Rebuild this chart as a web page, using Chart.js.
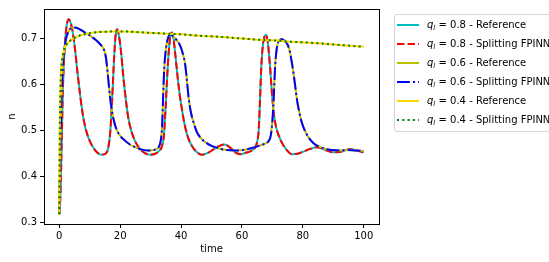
<!DOCTYPE html>
<html>
<head>
<meta charset="utf-8">
<script src="https://cdn.jsdelivr.net/npm/chart.js@4.4.0/dist/chart.umd.min.js"></script>
<style>
  html, body { margin: 0; padding: 0; background: #fff; overflow: hidden; }
  #wrap { position: relative; width: 549px; height: 262px; }
  #legend {
    position: absolute; left: 394px; top: 14px; width: 162px; height: 116px;
    border: 1px solid #d6d6d6; border-radius: 3px; background: rgba(255,255,255,0.8);
    font-family: "DejaVu Sans", sans-serif; font-size: 10px; color: #000;
  }
  .row { position: absolute; left: 0; height: 14px; white-space: nowrap; }
  .row svg { position: absolute; left: 2px; top: 5px; }
  .row span.txt { position: absolute; left: 32px; top: 0; line-height: 14px; }
  .row i { font-style: italic; }
  .row sub { font-size: 7px; font-style: italic; vertical-align: -2px; line-height: 0; }
</style>
</head>
<body>
<div id="wrap">
  <canvas id="grafico" width="549" height="262"></canvas>
  <div id="legend"></div>
</div>
<script>
// q_l = 0.8
const time08 = [0, 0.4, 0.8, 1.25, 1.8, 2.4, 3.1, 3.8, 4.5, 5.2, 6.0, 6.8, 7.6, 8.6, 9.8, 11.0, 12.3, 13.9, 15.2, 16.1,
  16.8, 17.4, 18.0, 18.5, 19.0, 19.6, 20.3, 21.0, 21.8, 22.6, 23.6, 24.8, 26.2, 28.0, 29.8, 31.5, 32.8, 33.7, 34.4, 34.9,
  35.4, 35.9, 36.4, 36.9, 37.5, 38.1, 38.8, 39.5, 40.3, 41.1, 42.0, 43.2, 44.8, 46.8, 48.8, 50.8, 52.6, 54.4, 56.2, 57.8,
  59.4, 61.2, 63.2, 64.3, 65.0, 65.5, 65.9, 66.3, 66.8, 67.4, 67.9, 68.5, 69.2, 69.8, 70.4, 71.1, 72.0, 73.2, 74.6, 76.4,
  78.2, 80.0, 82.2, 84.6, 87.2, 90.0, 92.8, 95.5, 97.8, 100];
const n08 = [0.318, 0.36, 0.47, 0.60, 0.68, 0.725, 0.741, 0.732, 0.71, 0.675, 0.625, 0.58, 0.54, 0.505, 0.48, 0.464, 0.453, 0.447, 0.449, 0.462,
  0.50, 0.57, 0.655, 0.705, 0.719, 0.705, 0.67, 0.62, 0.57, 0.53, 0.50, 0.478, 0.462, 0.451, 0.447, 0.449, 0.455, 0.465, 0.49, 0.545,
  0.61, 0.665, 0.70, 0.712, 0.70, 0.665, 0.62, 0.58, 0.545, 0.515, 0.49, 0.47, 0.455, 0.447, 0.451, 0.459, 0.466, 0.469, 0.462, 0.452,
  0.448, 0.451, 0.456, 0.462, 0.475, 0.50, 0.56, 0.63, 0.68, 0.703, 0.707, 0.69, 0.64, 0.585, 0.54, 0.51, 0.49, 0.472, 0.458, 0.448,
  0.449, 0.453, 0.459, 0.463, 0.458, 0.452, 0.454, 0.459, 0.456, 0.452];

// q_l = 0.6
const time06 = [0, 0.3, 0.6, 1.0, 1.5, 2.2, 3.0, 4.0, 5.0, 6.5, 8.0, 9.5, 11.0, 12.5, 13.8, 14.8, 15.4, 15.9, 16.4, 17.0,
  17.8, 18.8, 20.0, 21.5, 23.2, 25.0, 27.2, 29.5, 31.5, 32.7, 33.4, 33.8, 34.1, 34.5, 35.0, 35.6, 36.5, 37.5, 38.6, 39.6,
  40.5, 41.3, 41.9, 42.5, 43.2, 44.2, 45.2, 46.5, 48.0, 50.0, 52.2, 55.0, 57.8, 60.5, 63.0, 65.5, 67.5, 68.7, 69.5, 70.1,
  70.5, 70.9, 71.4, 72.0, 72.6, 73.6, 74.8, 75.6, 76.3, 76.9, 77.5, 78.1, 78.8, 79.6, 80.6, 82.0, 83.5, 85.2, 87.2, 89.5,
  92.0, 94.5, 97.0, 100];
const n06 = [0.318, 0.42, 0.53, 0.61, 0.665, 0.697, 0.714, 0.722, 0.723, 0.72, 0.714, 0.708, 0.701, 0.693, 0.684, 0.673, 0.655, 0.625, 0.59, 0.555,
  0.525, 0.502, 0.488, 0.478, 0.469, 0.463, 0.458, 0.456, 0.458, 0.464, 0.48, 0.51, 0.57, 0.635, 0.675, 0.697, 0.708, 0.703, 0.695, 0.685,
  0.668, 0.645, 0.61, 0.57, 0.54, 0.515, 0.496, 0.483, 0.474, 0.466, 0.461, 0.457, 0.456, 0.457, 0.461, 0.466, 0.471, 0.476, 0.49, 0.53,
  0.58, 0.64, 0.676, 0.693, 0.698, 0.696, 0.688, 0.674, 0.65, 0.625, 0.595, 0.565, 0.54, 0.518, 0.5, 0.483, 0.472, 0.465, 0.46, 0.457,
  0.456, 0.457, 0.456, 0.455];

// q_l = 0.4
const time04 = [0, 0.1, 0.2, 0.35, 0.55, 0.85, 1.25, 1.8, 2.5, 3.5, 5.0, 7.0, 9.5, 13.0, 17.0, 22.0, 28.0, 34.0, 40.0, 46.0,
  52.0, 58.0, 64.0, 70.0, 76.0, 82.0, 88.0, 94.0, 100];
const n04 = [0.318, 0.42, 0.51, 0.575, 0.62, 0.648, 0.665, 0.678, 0.687, 0.694, 0.70, 0.706, 0.710, 0.713, 0.714, 0.714, 0.712, 0.710, 0.708, 0.705,
  0.703, 0.700, 0.697, 0.695, 0.692, 0.690, 0.687, 0.684, 0.681];

const xTicks = [0, 20, 40, 60, 80, 100];
const yTicks = [0.3, 0.4, 0.5, 0.6, 0.7];
const qValues = ['0.8', '0.8', '0.6', '0.6', '0.4', '0.4'];
const metodos = ['Reference', 'Splitting FPINN', 'Reference', 'Splitting FPINN', 'Reference', 'Splitting FPINN'];

const puntos = (ts, ns) => ts.map((t, i) => ({ x: t, y: ns[i] }));

const estilos = [
  { color: '#00bfbf', dash: [] },
  { color: '#ff0000', dash: [7.4, 3.2] },
  { color: '#bfbf00', dash: [] },
  { color: '#0000ff', dash: [12.8, 3.2, 2, 3.2] },
  { color: '#ffd700', dash: [] },
  { color: '#008000', dash: [2, 3.3] }
];
const series = [puntos(time08, n08), puntos(time08, n08), puntos(time06, n06), puntos(time06, n06), puntos(time04, n04), puntos(time04, n04)];

const datasets = series.map((d, i) => ({
  label: 'q_l = ' + qValues[i] + ' - ' + metodos[i],
  data: d,
  borderColor: estilos[i].color,
  borderDash: estilos[i].dash,
  borderWidth: 2,
  pointRadius: 0,
  fill: false,
  cubicInterpolationMode: 'monotone',
  order: 6 - i
}));

const marco = {
  id: 'marco',
  afterDatasetsDraw(chart) {
    const a = chart.chartArea;
    const ctx = chart.ctx;
    ctx.save();
    ctx.strokeStyle = '#000';
    ctx.lineWidth = 1;
    ctx.strokeRect(Math.round(a.left) + 0.5, Math.round(a.top) + 0.5, Math.round(a.right - a.left), Math.round(a.bottom - a.top));
    ctx.restore();
  }
};

const fuente = { family: 'DejaVu Sans', size: 10 };

new Chart(document.getElementById('grafico'), {
  type: 'line',
  data: { datasets: datasets },
  options: {
    responsive: false,
    animation: false,
    layout: { padding: { left: 0, right: 170, top: 6, bottom: 0 } },
    plugins: { legend: { display: false }, tooltip: { enabled: false } },
    scales: {
      x: {
        type: 'linear', min: -5, max: 105,
        afterBuildTicks: (s) => { s.ticks = xTicks.map(v => ({ value: v })); },
        afterFit: (s) => { s.height = 38; },
        grid: { drawOnChartArea: false, drawTicks: true, tickLength: 4, color: '#000' },
        border: { display: false },
        ticks: { font: fuente, color: '#000', padding: 2, maxRotation: 0 },
        title: { display: true, text: 'time', font: fuente, color: '#000', padding: { top: 0, bottom: 7 } }
      },
      y: {
        type: 'linear', min: 0.2966, max: 0.763,
        afterBuildTicks: (s) => { s.ticks = yTicks.map(v => ({ value: v })); },
        afterFit: (s) => { s.width = 44; },
        grid: { drawOnChartArea: false, drawTicks: true, tickLength: 4, color: '#000' },
        border: { display: false },
        ticks: { font: fuente, color: '#000', padding: 3, callback: (v) => v.toFixed(1) },
        title: { display: true, text: 'n', font: fuente, color: '#000', padding: { top: 6, bottom: 0 } }
      }
    }
  },
  plugins: [marco]
});

// leyenda en HTML para poder usar cursiva y subindice
const leyenda = document.getElementById('legend');
const filasY = [3, 22, 41, 60, 79, 98];
datasets.forEach((ds, i) => {
  const fila = document.createElement('div');
  fila.className = 'row';
  fila.style.top = filasY[i] + 'px';
  fila.innerHTML = `
    <svg width="24" height="4"><line x1="0" y1="2" x2="22" y2="2" stroke="${ds.borderColor}" stroke-width="2"
      stroke-dasharray="${ds.borderDash.length ? ds.borderDash.join(' ') : 'none'}"/></svg>
    <span class="txt"><i>q</i><sub>l</sub> = ${qValues[i]} - ${metodos[i]}</span>`;
  leyenda.appendChild(fila);
});
</script>
</body>
</html>
